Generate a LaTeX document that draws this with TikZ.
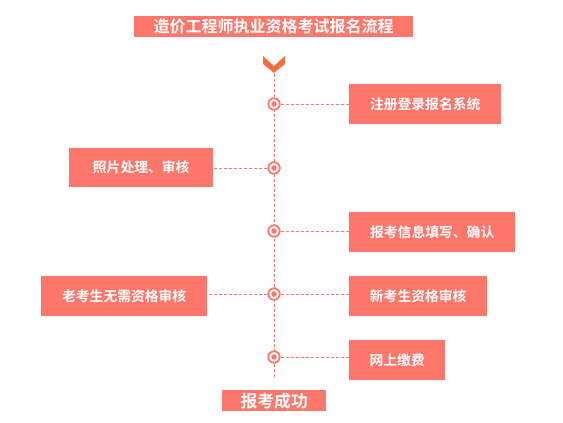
\documentclass[tikz,border=0pt]{standalone}
\usepackage{fontspec}
\newfontfamily\cjk{Noto Sans CJK SC}[BoldFont={Noto Sans CJK SC Bold}]
\definecolor{salmon}{HTML}{FF766A}
\definecolor{chev}{HTML}{F2703F}
\begin{document}
\begin{tikzpicture}[x=1pt,y=-1pt,
  stepbox/.style={fill=salmon,text=white,font=\cjk\bfseries\fontsize{13.8}{15}\selectfont,inner sep=0pt,anchor=north west},
  link/.style={salmon,dashed,dash pattern=on 3pt off 2pt,line width=0.8pt},
  ring/.style={circle,draw=salmon,line width=1.8pt,fill=white,minimum size=11.5pt,inner sep=0pt},
  dot/.style={circle,fill=salmon,minimum size=5.5pt,inner sep=0pt}]
\useasboundingbox (0,0) rectangle (563,423);
% title
\node[stepbox,minimum width=279pt,minimum height=21pt,font=\cjk\bfseries\fontsize{16}{18}\selectfont] (title) at (134,16) {造价工程师执业资格考试报名流程};
% chevron
\fill[chev] (263,56) -- (274,66) -- (285,56) -- (285,64) -- (274,73) -- (263,64) -- cycle;
\coordinate (top) at (274,74);
\coordinate (bot) at (274,379);
\draw[link] (top) -- (bot);
% circles
\foreach \n/\y in {c1/104,c2/168,c3/231,c4/294,c5/357}{
  \node[ring] (\n) at (274,\y) {};
  \node[dot] at (274,\y) {};
}
% boxes
\node[stepbox,minimum width=152pt,minimum height=40pt] (b1) at (349,84) {注册登录报名系统};
\node[stepbox,minimum width=144pt,minimum height=39pt] (b2) at (69,148) {照片处理、审核};
\node[stepbox,minimum width=166pt,minimum height=40pt] (b3) at (349,212) {报考信息填写、确认};
\node[stepbox,minimum width=166pt,minimum height=40pt] (b4) at (41,276) {老考生无需资格审核};
\node[stepbox,minimum width=138pt,minimum height=40pt] (b5) at (349,276) {新考生资格审核};
\node[stepbox,minimum width=96pt,minimum height=40pt] (b6) at (349,340) {网上缴费};
\node[stepbox,minimum width=104pt,minimum height=21pt,font=\cjk\bfseries\fontsize{16.8}{18}\selectfont] (done) at (222,390) {报考成功};
% connectors
\draw[link] (c1.east) -- (b1.west |- c1);
\draw[link] (c2.west) -- (b2.east |- c2);
\draw[link] (c3.east) -- (b3.west |- c3);
\draw[link] (c4.west) -- (b4.east |- c4);
\draw[link] (c4.east) -- (b5.west |- c4);
\draw[link] (c5.east) -- (b6.west |- c5);
\end{tikzpicture}
\end{document}
